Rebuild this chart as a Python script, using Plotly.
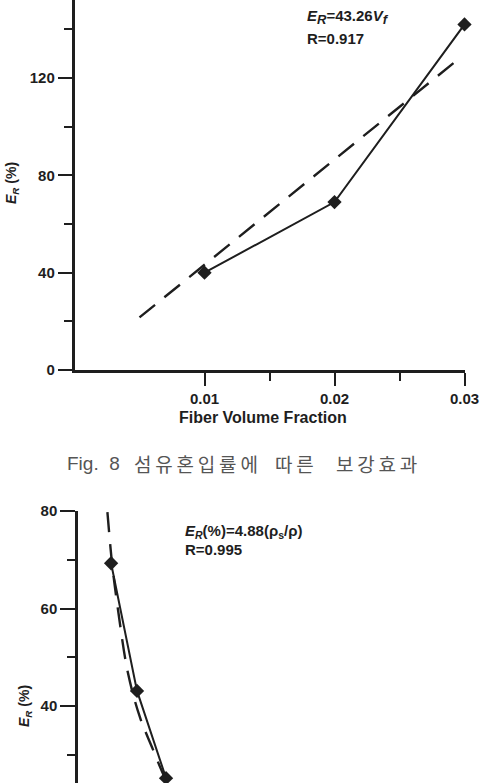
import plotly.graph_objects as go

W, H = 486, 783

# ---- Data: Fig. 8 (top) ----
vf = [0.01, 0.02, 0.03]
er_vf = [40, 69, 142]
fit_vf_x = [0.005, 0.0295]
fit_vf_y = [21.6, 127.6]

# ---- Data: lower chart (cropped) ----
rho_x = [1.71, 3.05, 4.55]
er_rho = [69.3, 43.1, 25.2]
fit_rho_x = [1.52, 1.76, 2.07, 2.58, 3.20, 3.82, 4.50, 5.01]
fit_rho_y = [79.8, 69.3, 59.7, 46.8, 37.7, 31.6, 25.2, 21.7]

top_yticks = [0, 40, 80, 120]
top_yminor = [20, 60, 100, 140]
top_xticks = [0.01, 0.02, 0.03]
top_xticklabels = ["0.01", "0.02", "0.03"]
top_xminor = [0.015, 0.025]
bot_yticks = [20, 40, 60, 80]
bot_yminor = [30, 50, 70]

caption_words = ["Fig.  8", "섬유혼입률에", "따른", "보강효과"]
caption_centers = [93, 196, 294.5, 376]

INK = "#1e1e1e"
FONT = "Liberation Sans, Arial, sans-serif"


def px(x):
    return x / W


def py(y):
    return 1 - y / H


tickfont = dict(family=FONT, size=15, color=INK, weight="bold")

fig = go.Figure()

fig.add_trace(go.Scatter(
    x=fit_vf_x, y=fit_vf_y, mode="lines", xaxis="x", yaxis="y",
    line=dict(color=INK, width=2.4, dash="20px,12px"), showlegend=False))
fig.add_trace(go.Scatter(
    x=vf, y=er_vf, mode="lines+markers", xaxis="x", yaxis="y",
    line=dict(color=INK, width=2), cliponaxis=False,
    marker=dict(symbol="diamond", size=11, color=INK), showlegend=False))

fig.add_trace(go.Scatter(
    x=fit_rho_x, y=fit_rho_y, mode="lines", xaxis="x2", yaxis="y2",
    line=dict(color=INK, width=2.4, dash="20px,12px", shape="spline"), showlegend=False))
fig.add_trace(go.Scatter(
    x=rho_x, y=er_rho, mode="lines+markers", xaxis="x2", yaxis="y2",
    line=dict(color=INK, width=2), cliponaxis=False,
    marker=dict(symbol="diamond", size=11, color=INK), showlegend=False))

axis_common = dict(showline=True, linewidth=2.5, linecolor=INK, ticks="outside",
                   tickwidth=2, tickcolor=INK, showgrid=False, zeroline=False,
                   automargin=False, tickfont=tickfont)

fig.update_layout(
    width=W, height=H,
    margin=dict(l=0, r=0, t=0, b=0),
    paper_bgcolor="white", plot_bgcolor="white",
    xaxis=dict(domain=[px(74.5), px(464.5)], range=[0, 0.03], anchor="y",
               tickmode="array", tickvals=top_xticks, ticktext=top_xticklabels,
               ticklen=13,
               minor=dict(tickmode="array", tickvals=top_xminor, ticklen=8,
                          ticks="outside", tickwidth=2, tickcolor=INK),
               **axis_common),
    yaxis=dict(domain=[py(370), 1], range=[-0.01, 152.05], anchor="x",
               tickmode="array", tickvals=top_yticks, ticklen=14,
               minor=dict(tickmode="array", tickvals=top_yminor, ticklen=8,
                          ticks="outside", tickwidth=2, tickcolor=INK),
               **axis_common),
    xaxis2=dict(domain=[px(78), px(465)], range=[0, 20], anchor="y2",
                visible=False),
    yaxis2=dict(domain=[0, py(511)], range=[24.2, 80.02], anchor="x2",
                tickmode="array", tickvals=bot_yticks, ticklen=15,
                minor=dict(tickmode="array", tickvals=bot_yminor, ticklen=8,
                           ticks="outside", tickwidth=2, tickcolor=INK),
                **axis_common),
)

ann_font = dict(family=FONT, size=15, color=INK, weight="bold")
annotations = [
    dict(x=px(305), y=py(17),
         text="<i>E</i><sub><i><span style='font-size:13px'>R</span></i></sub>=43.26<i>V</i><sub><i><span style='font-size:13px'>f</span></i></sub>",
         xanchor="left", yanchor="middle", font=ann_font),
    dict(x=px(305), y=py(38), text="R=0.917", xanchor="left", yanchor="middle", font=ann_font),
    dict(x=px(263), y=py(417), text="Fiber Volume Fraction", xanchor="center", yanchor="middle",
         font=dict(family=FONT, size=16, color=INK, weight="bold")),
    dict(x=px(12), y=py(183), text="<i>E</i><sub><i>R</i></sub> (%)", textangle=-90,
         xanchor="center", yanchor="middle", font=dict(family=FONT, size=14, color=INK, weight="bold")),
    dict(x=px(183), y=py(531), text="<i>E</i><sub><i>R</i></sub>(%)=4.88(ρ<sub>s</sub>/ρ)",
         xanchor="left", yanchor="middle", font=ann_font),
    dict(x=px(183), y=py(549), text="R=0.995", xanchor="left", yanchor="middle", font=ann_font),
    dict(x=px(25), y=py(706), text="<i>E</i><sub><i>R</i></sub> (%)", textangle=-90,
         xanchor="center", yanchor="middle", font=dict(family=FONT, size=14, color=INK, weight="bold")),
]
for i, (word, cx) in enumerate(zip(caption_words, caption_centers)):
    txt = word if i == 0 else "\u2009".join(word)
    fam = FONT if i == 0 else "Noto Sans CJK KR, sans-serif"
    annotations.append(dict(x=px(cx), y=py(463), text=txt, xanchor="center", yanchor="middle",
                            font=dict(family=fam, size=19, color="#555555")))
for a in annotations:
    a.update(xref="paper", yref="paper", showarrow=False)
fig.update_layout(annotations=annotations)

fig.write_html("out.html")
